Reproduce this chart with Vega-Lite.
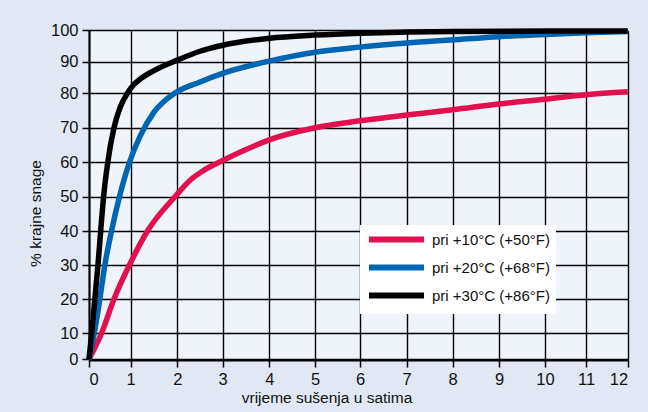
{
  "$schema": "https://vega.github.io/schema/vega-lite/v6.json",
  "width": 539,
  "height": 330,
  "autosize": {"type": "none"},
  "padding": {"left": 89, "top": 30, "right": 20, "bottom": 52},
  "background": "#E1E8F3",
  "config": {
    "font": "Liberation Sans",
    "view": {"fill": "#EFF3FA", "stroke": null},
    "axis": {
      "domainColor": "#000000", "domainWidth": 2,
      "tickColor": "#000000", "tickWidth": 1.5, "tickSize": 7,
      "gridColor": "#000000", "gridWidth": 1.4, "gridOpacity": 1,
      "labelFont": "Liberation Sans", "labelFontSize": 16.5, "labelColor": "#111111",
      "titleFont": "Liberation Sans", "titleFontSize": 15.5, "titleFontWeight": "normal", "titleColor": "#111111"
    }
  },
  "data": {
    "values": [
      {"t": 0, "v": 0, "s": "pri +10°C (+50°F)"},
      {"t": 0.3, "v": 10, "s": "pri +10°C (+50°F)"},
      {"t": 0.6, "v": 20, "s": "pri +10°C (+50°F)"},
      {"t": 0.97, "v": 30, "s": "pri +10°C (+50°F)"},
      {"t": 1.36, "v": 40, "s": "pri +10°C (+50°F)"},
      {"t": 1.95, "v": 50, "s": "pri +10°C (+50°F)"},
      {"t": 2.3, "v": 55, "s": "pri +10°C (+50°F)"},
      {"t": 2.6, "v": 57.8, "s": "pri +10°C (+50°F)"},
      {"t": 3, "v": 60.5, "s": "pri +10°C (+50°F)"},
      {"t": 3.5, "v": 63.7, "s": "pri +10°C (+50°F)"},
      {"t": 4, "v": 66.5, "s": "pri +10°C (+50°F)"},
      {"t": 5, "v": 70, "s": "pri +10°C (+50°F)"},
      {"t": 6, "v": 72, "s": "pri +10°C (+50°F)"},
      {"t": 7, "v": 73.7, "s": "pri +10°C (+50°F)"},
      {"t": 8, "v": 75.2, "s": "pri +10°C (+50°F)"},
      {"t": 9, "v": 76.9, "s": "pri +10°C (+50°F)"},
      {"t": 10, "v": 78.3, "s": "pri +10°C (+50°F)"},
      {"t": 11, "v": 79.6, "s": "pri +10°C (+50°F)"},
      {"t": 12, "v": 80.5, "s": "pri +10°C (+50°F)"},
      {"t": 0, "v": 0, "s": "pri +20°C (+68°F)"},
      {"t": 0.127, "v": 10, "s": "pri +20°C (+68°F)"},
      {"t": 0.26, "v": 20, "s": "pri +20°C (+68°F)"},
      {"t": 0.38, "v": 30, "s": "pri +20°C (+68°F)"},
      {"t": 0.54, "v": 40, "s": "pri +20°C (+68°F)"},
      {"t": 0.73, "v": 50, "s": "pri +20°C (+68°F)"},
      {"t": 0.97, "v": 60, "s": "pri +20°C (+68°F)"},
      {"t": 1.2, "v": 67.5, "s": "pri +20°C (+68°F)"},
      {"t": 1.5, "v": 74.5, "s": "pri +20°C (+68°F)"},
      {"t": 1.94, "v": 80, "s": "pri +20°C (+68°F)"},
      {"t": 2.5, "v": 83.6, "s": "pri +20°C (+68°F)"},
      {"t": 3, "v": 86.3, "s": "pri +20°C (+68°F)"},
      {"t": 4, "v": 90.2, "s": "pri +20°C (+68°F)"},
      {"t": 5, "v": 93, "s": "pri +20°C (+68°F)"},
      {"t": 6, "v": 94.6, "s": "pri +20°C (+68°F)"},
      {"t": 7, "v": 95.9, "s": "pri +20°C (+68°F)"},
      {"t": 8, "v": 96.9, "s": "pri +20°C (+68°F)"},
      {"t": 9, "v": 97.9, "s": "pri +20°C (+68°F)"},
      {"t": 10, "v": 98.6, "s": "pri +20°C (+68°F)"},
      {"t": 11, "v": 99.1, "s": "pri +20°C (+68°F)"},
      {"t": 12, "v": 99.5, "s": "pri +20°C (+68°F)"},
      {"t": 0, "v": 0, "s": "pri +30°C (+86°F)"},
      {"t": 0.065, "v": 10, "s": "pri +30°C (+86°F)"},
      {"t": 0.14, "v": 20, "s": "pri +30°C (+86°F)"},
      {"t": 0.215, "v": 30, "s": "pri +30°C (+86°F)"},
      {"t": 0.28, "v": 40, "s": "pri +30°C (+86°F)"},
      {"t": 0.35, "v": 50, "s": "pri +30°C (+86°F)"},
      {"t": 0.45, "v": 60, "s": "pri +30°C (+86°F)"},
      {"t": 0.6, "v": 70, "s": "pri +30°C (+86°F)"},
      {"t": 0.75, "v": 76, "s": "pri +30°C (+86°F)"},
      {"t": 0.92, "v": 80, "s": "pri +30°C (+86°F)"},
      {"t": 1.0, "v": 81.6, "s": "pri +30°C (+86°F)"},
      {"t": 1.25, "v": 85, "s": "pri +30°C (+86°F)"},
      {"t": 1.5, "v": 87.2, "s": "pri +30°C (+86°F)"},
      {"t": 2, "v": 90.5, "s": "pri +30°C (+86°F)"},
      {"t": 2.5, "v": 93.3, "s": "pri +30°C (+86°F)"},
      {"t": 3, "v": 95.2, "s": "pri +30°C (+86°F)"},
      {"t": 4, "v": 97.4, "s": "pri +30°C (+86°F)"},
      {"t": 5, "v": 98.4, "s": "pri +30°C (+86°F)"},
      {"t": 6, "v": 99, "s": "pri +30°C (+86°F)"},
      {"t": 7, "v": 99.35, "s": "pri +30°C (+86°F)"},
      {"t": 8, "v": 99.55, "s": "pri +30°C (+86°F)"},
      {"t": 10, "v": 99.65, "s": "pri +30°C (+86°F)"},
      {"t": 12, "v": 99.7, "s": "pri +30°C (+86°F)"}
    ]
  },
  "mark": {"type": "line", "strokeWidth": 5.5, "interpolate": "monotone", "strokeCap": "butt"},
  "encoding": {
    "x": {
      "field": "t", "type": "quantitative",
      "scale": {"domain": [0,1,2,3,4,5,6,7,8,9,10,11,12], "range": [0,41.7,88.3,133.7,180.3,226,271,317.7,363.7,410,456,497,538.7]},
      "axis": {"values": [0,1,2,3,4,5,6,7,8,9,10,11,12], "title": "vrijeme sušenja u satima", "labelPadding": 4,
               "titleX": 237.5, "titleY": 42, "titleAlign": "center", "titleBaseline": "alphabetic"}
    },
    "y": {
      "field": "v", "type": "quantitative",
      "scale": {"domain": [0,10,20,30,40,50,60,70,80,90,100], "range": [329.3,303.3,269,235,201,166.7,132.3,97.7,63.3,31.7,0]},
      "axis": {"values": [0,10,20,30,40,50,60,70,80,90,100], "title": "% krajne snage", "labelPadding": 4,
               "titleAngle": -90, "titleX": -54, "titleY": 183, "titleAlign": "center", "titleBaseline": "middle"}
    },
    "color": {
      "field": "s", "type": "nominal",
      "scale": {"domain": ["pri +10°C (+50°F)", "pri +20°C (+68°F)", "pri +30°C (+86°F)"], "range": ["#E2104F", "#0066B3", "#000000"]},
      "legend": {
        "title": null, "orient": "none", "legendX": 271, "legendY": 195,
        "fillColor": "#FFFFFF", "padding": 6, "symbolType": "M-1,0L9,0", "symbolSize": 121,
        "symbolStrokeWidth": 6, "labelFontSize": 15, "labelFont": "Liberation Sans", "labelColor": "#111111",
        "labelOffset": 49, "rowPadding": 3
      }
    }
  }
}
